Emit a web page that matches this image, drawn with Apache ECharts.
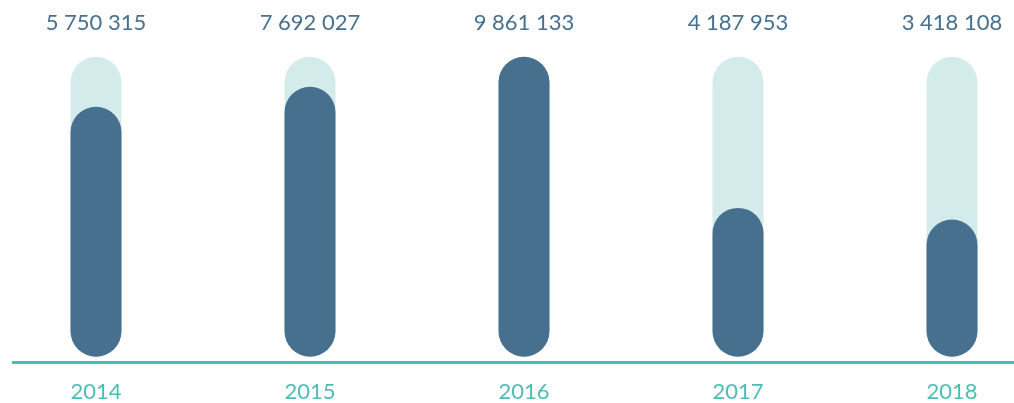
<!DOCTYPE html>
<html>
<head>
<meta charset="utf-8">
<script src="https://cdn.jsdelivr.net/npm/echarts@6/dist/echarts.min.js"></script>
<style>
	html, body { margin: 0; padding: 0; background: #fff; }
	#chart { width: 1014px; height: 403px; }
</style>
</head>
<body>
<div id="chart"></div>
<script>
/* data */
var years = ['2014', '2015', '2016', '2017', '2018'];
var totals = [5750315, 7692027, 9861133, 4187953, 3418108];
// filled part of each bar, percent of the track
var fillPct = [83.3, 90, 100, 49.6, 45.7];
var trackPct = [100, 100, 100, 100, 100];

function fmtNum(v) {
	return String(v).replace(/\B(?=(\d{3})+(?!\d))/g, ' ');
}

var option = {
	animation : false,
	grid : {
		left : -11,
		right : -45,
		top : 56.7,
		bottom : 46.3,
		outerBoundsMode : 'none',
		containLabel : false
	},
	xAxis : {
		type : 'category',
		data : years,
		axisLine : { show : false },
		axisTick : { show : false },
		axisLabel : {
			color : '#4dbdb4',
			fontFamily : 'Lato',
			fontSize : 22,
			margin : 24
		}
	},
	yAxis : {
		type : 'value',
		min : 0,
		max : 100,
		show : false
	},
	graphic : [ {
		type : 'line',
		shape : { x1 : 12, y1 : 362.5, x2 : 1014, y2 : 362.5 },
		style : { stroke : '#4dbdb4', lineWidth : 3 }
	} ],
	series : [ {
		name : 'track',
		type : 'bar',
		barWidth : 51,
		barGap : '-100%',
		data : trackPct,
		itemStyle : {
			color : '#d4ebeb',
			borderRadius : 25.5
		},
		label : {
			show : true,
			position : 'top',
			distance : 23,
			color : '#47708f',
			fontFamily : 'Lato',
			fontSize : 22,
			formatter : function(p) {
				return fmtNum(totals[p.dataIndex]);
			}
		}
	}, {
		name : 'fill',
		type : 'bar',
		barWidth : 51,
		barGap : '-100%',
		data : fillPct,
		itemStyle : {
			color : '#47708f',
			borderRadius : 25.5
		}
	} ]
};

var chart = echarts.init(document.getElementById('chart'));
chart.setOption(option);
</script>
</body>
</html>
